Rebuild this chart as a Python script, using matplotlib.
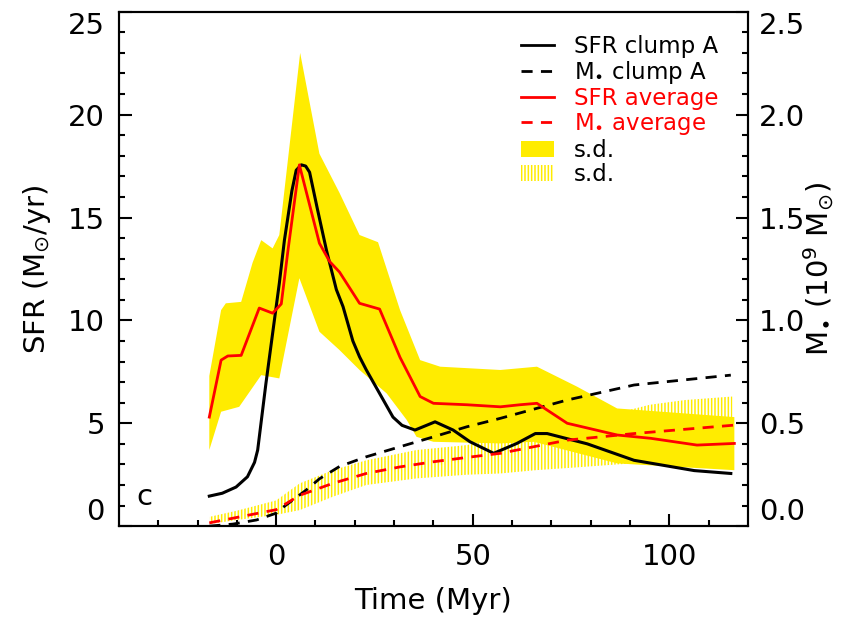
import numpy as np
import matplotlib
matplotlib.use("Agg")
import matplotlib.pyplot as plt
from matplotlib.lines import Line2D
from matplotlib.patches import Patch

plt.rcParams['font.family'] = ['DejaVu Sans']
plt.rcParams['mathtext.default'] = 'regular'
plt.rcParams['hatch.linewidth'] = 1.1

# SFR of clump A (Msun/yr)
t_sfr_a = [-17, -13.7, -10.2, -7.3, -5.5, -4.7, -2.6, 0.8, 2.1, 4, 5.1, 6.4, 7.5, 8.5, 10.5,
           12.8, 15.3, 17, 19.5, 21.2, 22.9, 26.3, 29.7, 32, 35.3, 40.4, 45, 49.3, 55.3,
           61.2, 65.9, 68.9, 79.1, 91, 106.3, 115.6]
sfr_a = [1.46, 1.6, 1.9, 2.4, 3.1, 3.7, 6.94, 11.8, 13.9, 16.3, 17.3, 17.56, 17.5, 17.2, 15.4,
         13.4, 11.5, 10.67, 9.0, 8.23, 7.6, 6.45, 5.3, 4.9, 4.67, 5.07, 4.67, 4.1, 3.54,
         4.02, 4.5, 4.5, 4.0, 3.2, 2.7, 2.56]

# stellar mass of clump A (1e9 Msun)
t_m_a = [-17, -11, -5, 0, 0.8, 7.6, 11, 16.1, 22.9, 31.5, 40, 48.5, 57, 74, 91, 115.6]
m_a = [0.0, 0.01, 0.03, 0.063, 0.078, 0.175, 0.23, 0.29, 0.337, 0.386, 0.434, 0.483,
       0.524, 0.613, 0.686, 0.734]

# average SFR
t_sfr_avg = [-17, -14, -12.3, -8.9, -4.3, -0.9, 1.3, 3, 5.9, 11, 13.6, 16.1, 21.2, 26.3,
             31.5, 36.6, 40, 48.5, 57, 62, 66.3, 74, 86.7, 95.2, 107, 116.5]
sfr_avg = [5.3, 8.07, 8.27, 8.3, 10.6, 10.35, 10.8, 13.4, 17.56, 13.75, 12.86, 12.35, 10.83,
           10.55, 8.2, 6.3, 5.97, 5.9, 5.8, 5.9, 5.97, 5.0, 4.43, 4.27, 3.94, 4.02]

# average stellar mass
t_m_avg = [-17, 0, 6, 14.4, 22.9, 31.5, 40, 48.5, 57, 74, 91, 116.5]
m_avg = [0.016, 0.08, 0.15, 0.208, 0.256, 0.288, 0.313, 0.334, 0.354, 0.418, 0.45, 0.491]

# s.d. band of SFR
t_sd_hi = [-17, -14, -12.8, -8.9, -6, -3.8, -0.9, 0.8, 6.1, 11, 16.1, 21.2, 25.9, 31.5,
           36.6, 41.7, 57, 66.3, 76.5, 86.7, 116.5]
sfr_sd_hi = [7.3, 10.5, 10.83, 10.9, 12.8, 13.9, 13.5, 14.15, 23.0, 18.1, 16.2, 14.15, 13.8,
             10.5, 8.07, 7.75, 7.59, 7.75, 6.78, 5.72, 5.3]
t_sd_lo = [-17, -14, -9.4, -3.8, 0.8, 5.9, 11, 16.1, 21.2, 28.1, 33.2, 35.7, 40, 57, 65.5,
           86.7, 116.5]
sfr_sd_lo = [3.7, 5.56, 5.8, 7.34, 7.18, 12.05, 9.45, 8.56, 7.59, 6.45, 5.16, 4.34, 4.1,
             4.02, 4.1, 3.05, 2.72]

# s.d. band of stellar mass (1e9 Msun)
t_msd = [-17, -10, 0, 6, 14.4, 22.9, 35.7, 48.5, 57, 66, 76, 86.7, 95, 104, 116]
m_sd_hi = [0.045, 0.075, 0.125, 0.208, 0.272, 0.32, 0.37, 0.394, 0.43, 0.46, 0.50, 0.55,
           0.59, 0.613, 0.63]
m_sd_lo = [0.01, 0.03, 0.055, 0.078, 0.143, 0.20, 0.232, 0.25, 0.256, 0.272, 0.285, 0.30,
           0.31, 0.32, 0.33]

YEL = '#ffec00'
DASH = (0, (4, 3))

fig = plt.figure(figsize=(8.55, 6.19), dpi=100)
ax = fig.add_axes([0.139, 0.150, 0.736, 0.831])
ax2 = ax.twinx()
ax.set_xlim(-40, 120)
ax.set_ylim(0, 25)
ax2.set_ylim(0, 2.5)
ax.set_zorder(ax2.get_zorder() + 1)
ax.patch.set_visible(False)

# everything drawn in ax; mass series use the right-axis scale
mtr = ax2.transData
ax.fill(np.concatenate([t_sd_hi, t_sd_lo[::-1]]),
        np.concatenate([sfr_sd_hi, sfr_sd_lo[::-1]]),
        color=YEL, lw=0, zorder=1)
ax.fill(np.concatenate([t_msd, t_msd[::-1]]),
        np.concatenate([m_sd_hi, m_sd_lo[::-1]]),
        facecolor='none', edgecolor=YEL, hatch='|||||', lw=0, zorder=1.5, transform=mtr)

ax.plot(t_m_a, m_a, color='black', lw=2.0, ls=DASH, zorder=3, transform=mtr)
ax.plot(t_m_avg, m_avg, color='red', lw=2.0, ls=DASH, zorder=4, transform=mtr)
ax.plot(t_sfr_a, sfr_a, color='black', lw=2.2, zorder=3)
ax.plot(t_sfr_avg, sfr_avg, color='red', lw=2.0, zorder=4)

ax.set_xlim(-40, 120)
ax.set_ylim(0, 25)

ax.set_xticks([0, 50, 100])
ax.set_xticks(np.arange(-30, 120, 10), minor=True)
ax.set_yticks(np.arange(0, 26, 5))
ax.set_yticks(np.arange(0, 26, 1), minor=True)
ax2.set_yticks(np.arange(0, 2.51, 0.5))
ax2.set_yticks(np.arange(0, 2.51, 0.1), minor=True)
ax2.set_yticklabels(['%.1f' % v for v in np.arange(0, 2.51, 0.5)])

ax.tick_params(axis='both', which='major', direction='in', length=9, width=1.5,
               labelsize=21, right=False, top=False)
ax.tick_params(axis='both', which='minor', direction='in', length=4, width=1.5,
               right=False, top=False)
ax.tick_params(axis='y', which='major', pad=10)
ax.tick_params(axis='x', which='major', pad=12)
ax2.tick_params(axis='y', which='major', direction='in', length=9, width=1.5,
                labelsize=21, pad=8)
ax2.tick_params(axis='y', which='minor', direction='in', length=4, width=1.5)
for a in (ax, ax2):
    for s in a.spines.values():
        s.set_linewidth(1.5)

for a in (ax, ax2):
    ticks = a.yaxis.get_major_ticks()
    ticks[0].label1.set_va('bottom')
    ticks[0].label2.set_va('bottom')
    ticks[-1].label1.set_va('top')
    ticks[-1].label2.set_va('top')

ax.set_xlabel('Time (Myr)', fontsize=21, labelpad=12)
ax.set_ylabel(r'SFR (M$_{\odot}$/yr)', fontsize=21, labelpad=11)
ax2.set_ylabel(r'M$_{\bullet}$ (10$^{9}$ M$_{\odot}$)', fontsize=21, labelpad=-3)

ax.text(-33.5, 1.4, 'c', fontsize=21, va='center', ha='center')

handles = [
    Line2D([], [], color='black', lw=2.0),
    Line2D([], [], color='black', lw=2.0, ls=DASH),
    Line2D([], [], color='red', lw=2.0),
    Line2D([], [], color='red', lw=2.0, ls=DASH),
    Patch(facecolor=YEL, edgecolor='none'),
    Patch(facecolor='none', edgecolor=YEL, hatch='|||||', lw=0),
]
labels = ['SFR clump A', r'M$_{\bullet}$ clump A', 'SFR average', r'M$_{\bullet}$ average',
          's.d.', 's.d.']
leg = ax.legend(handles, labels, loc='upper left', bbox_to_anchor=(0.596, 0.962),
                bbox_transform=fig.transFigure, frameon=False, fontsize=16.5,
                handlelength=1.45, handletextpad=0.85, labelspacing=0.05, borderpad=0)
for txt, c in zip(leg.get_texts(), ['black', 'black', 'red', 'red', 'black', 'black']):
    txt.set_color(c)

fig.savefig('out.png', dpi=100)
